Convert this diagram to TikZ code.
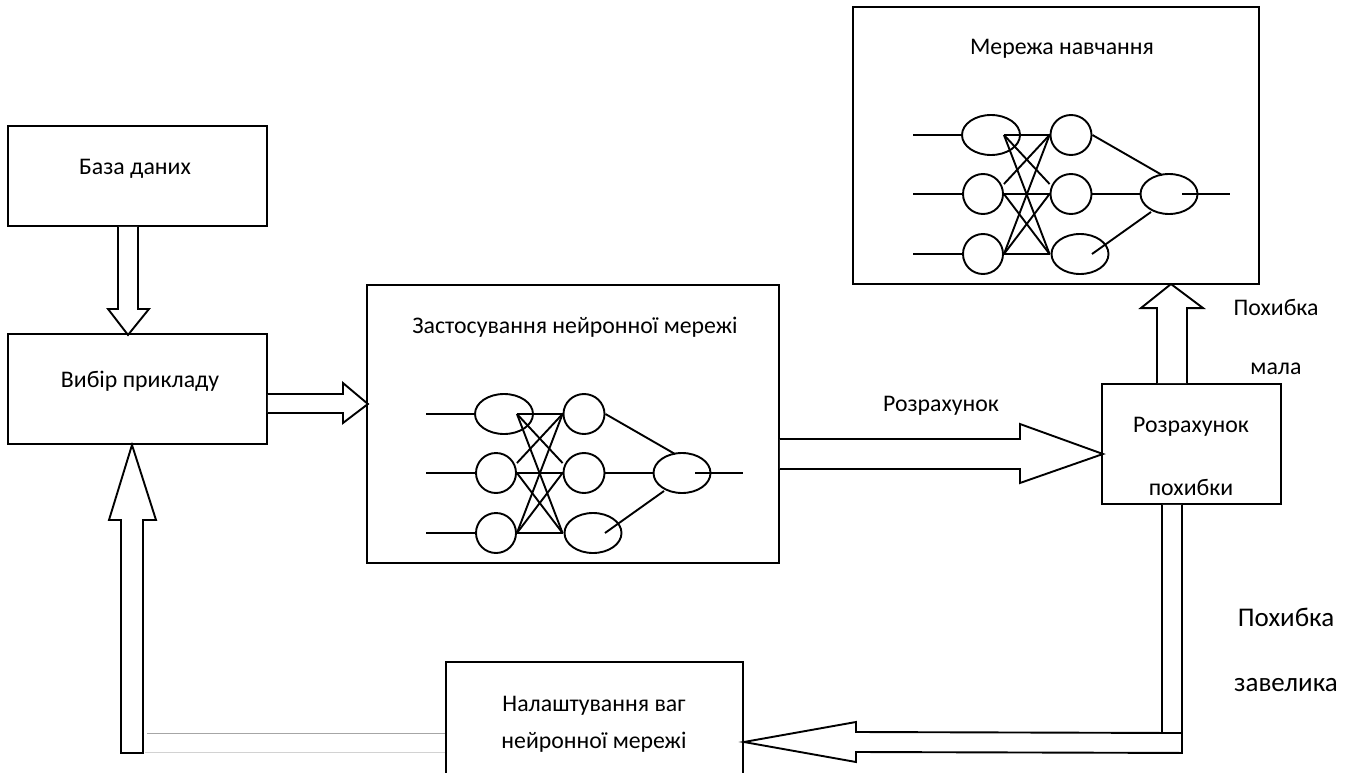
\documentclass[tikz,border=0pt]{standalone}
\usepackage{fontspec}
\setmainfont{Carlito}
\usetikzlibrary{calc,shapes.geometric}

\tikzset{
  box/.style={draw, line width=1.9pt, rectangle, inner sep=0pt},
  neuron/.style={draw, ellipse, line width=1.9pt, inner sep=0pt, minimum height=40pt},
  blockarrow/.style={draw, fill=white, line width=1.9pt, line join=miter},
  wire/.style={line width=1.9pt},
  lbl/.style={font=\fontsize{23.8}{28}\selectfont, inner sep=0pt},
  biglbl/.style={font=\fontsize{27}{32}\selectfont, inner sep=0pt},
}

% three-layer network: #1 = name prefix, #2/#3 = offset of the whole net
\newcommand{\neuralnet}[3]{%
  \node[neuron, minimum width=58pt] (#1a1) at ({504+#2},{414+#3}) {};
  \node[neuron, minimum width=40pt] (#1a2) at ({496+#2},{473+#3}) {};
  \node[neuron, minimum width=40pt] (#1a3) at ({496+#2},{533+#3}) {};
  \node[neuron, minimum width=41pt] (#1b1) at ({584+#2},{414+#3}) {};
  \node[neuron, minimum width=41pt] (#1b2) at ({584+#2},{473+#3}) {};
  \node[neuron, minimum width=57pt] (#1b3) at ({593+#2},{533+#3}) {};
  \node[neuron, minimum width=57pt] (#1c)  at ({682+#2},{473+#3}) {};
  % inputs
  \draw[wire] (#1a1.west) -- ++(-48,0);
  \draw[wire] (#1a2.west) -- ++(-49,0);
  \draw[wire] (#1a3.west) -- ++(-49,0);
  % first layer to second layer
  \coordinate (#1p1) at (#1a1 -| #1a2.east);
  \coordinate (#1q3) at (#1b3 -| #1b1.west);
  \draw[wire] (#1p1) -- (#1b1.west);
  \draw[wire] (#1p1) -- ($(#1b2.west)+(0,-10)$);
  \draw[wire] (#1p1) -- (#1q3);
  \draw[wire] ($(#1a2.east)+(0,-10)$) -- (#1b1.west);
  \draw[wire] (#1a2.east) -- (#1b2.west);
  \draw[wire] (#1a2.east) -- (#1q3);
  \draw[wire] (#1a3.east) -- (#1b1.west);
  \draw[wire] (#1a3.east) -- (#1b2.west);
  \draw[wire] (#1a3.east) -- (#1q3);
  % second layer to output
  \draw[wire] (#1b1.east) -- ($(#1c.center)+(-7,-19)$);
  \draw[wire] (#1b2.east) -- (#1c.west);
  \draw[wire] ($(#1b3.center)+(12,0)$) -- ($(#1c.center)+(-18,18)$);
  \draw[wire] ($(#1c.center)+(13,0)$) -- ++(48,0);
}

\begin{document}
\begin{tikzpicture}[x=1pt, y=-1pt]
\clip (0,0) rectangle (1357,773);
\fill[white] (0,0) rectangle (1357,773);

% blocks
\node[box, minimum width=259pt, minimum height=100pt] (db)    at (137.5,176) {};
\node[box, minimum width=259pt, minimum height=110pt] (sel)   at (137.5,389) {};
\node[box, minimum width=412pt, minimum height=278pt] (app)   at (573,424) {};
\node[box, minimum width=406pt, minimum height=277pt] (train) at (1056,145.5) {};
\node[box, minimum width=179pt, minimum height=120pt] (err)   at (1191.5,444) {};
\node[box, minimum width=297pt, minimum height=138pt] (adj)   at (594.5,731) {};

% block texts
\node[lbl] (dbtext)    at (135,169) {База даних};
\node[lbl] (seltext)   at (140,381) {Вибір прикладу};
\node[lbl] (apptext)   at (575,327) {Застосування нейронної мережі};
\node[lbl] (traintext) at (1062,49) {Мережа навчання};
\node[lbl] (errtexta)  at (1191,427) {Розрахунок};
\node[lbl] (errtextb)  at (1191,487) {похибки};
\node[lbl] (adjtexta)  at (594,706) {Налаштування ваг};
\node[lbl] (adjtextb)  at (594,742) {нейронної мережі};

% networks
\neuralnet{app}{0}{0}
\neuralnet{trn}{487}{-279}

% database -> example selection
\draw[blockarrow] ($(db.south)+(-19.5,0)$) -- ++(0,82) -- ++(-10,0) -- ++(20,26)
  -- ++(21,-26) -- ++(-11,0) -- ++(0,-82);

% example selection -> network application
\draw[blockarrow] ($(sel.east)+(0,5)$) -- ++(75,0) -- ++(0,-11) -- ++(25,21)
  -- ++(-25,19) -- ++(0,-10) -- ++(-75,0);

% network application -> error calculation
\draw[blockarrow] ($(app.east)+(0,15)$) -- ++(240,0) -- ++(0,-15) -- ++(83,30)
  -- ++(-83,29) -- ++(0,-14) -- ++(-240,0);
\node[lbl] (calclbl) at (941,406) {Розрахунок};

% error small -> training network
\draw[blockarrow] ($(err.north)+(-34.5,0)$) -- ++(0,-75) -- ++(-16,0) -- ++(30,-24)
  -- ++(32,24) -- ++(-16,0) -- ++(0,75);
\node[lbl] (smalla) at (1276,307) {Похибка};
\node[lbl] (smallb) at (1276,369) {мала};

% error too large -> weight adjustment
\coordinate (bend) at ($(err.south)+(-29.5,228)$);
\draw[blockarrow] ($(err.south)+(-29.5,0)$) -- (bend) -- ($(adj.east)+(112,1)$)
  -- ++(0,-10) -- ($(adj.east)+(0,11)$) -- ++(112,20) -- ++(0,-10)
  -- ($(err.south)+(-9.5,248)$) -- ($(err.south)+(-9.5,0)$);
\draw[wire] (bend) -- ++(20,0);
\node[biglbl] (largea) at (1286,617) {Похибка};
\node[biglbl] (largeb) at (1286,685) {завелика};

% weight adjustment -> example selection
\draw[blockarrow] ($(sel.south)+(-5.5,0)$) -- ++(-23,75) -- ++(12,0) -- ++(0,233)
  -- ++(22,0) -- ++(0,-233) -- ++(13,0) -- cycle;
\draw[gray!70, line width=1pt] ($(adj.west)+(0,2)$) -- ++(-298,0);
\draw[gray!35, line width=1pt] ($(adj.west)+(0,21)$) -- ++(-300,0);
\end{tikzpicture}
\end{document}
